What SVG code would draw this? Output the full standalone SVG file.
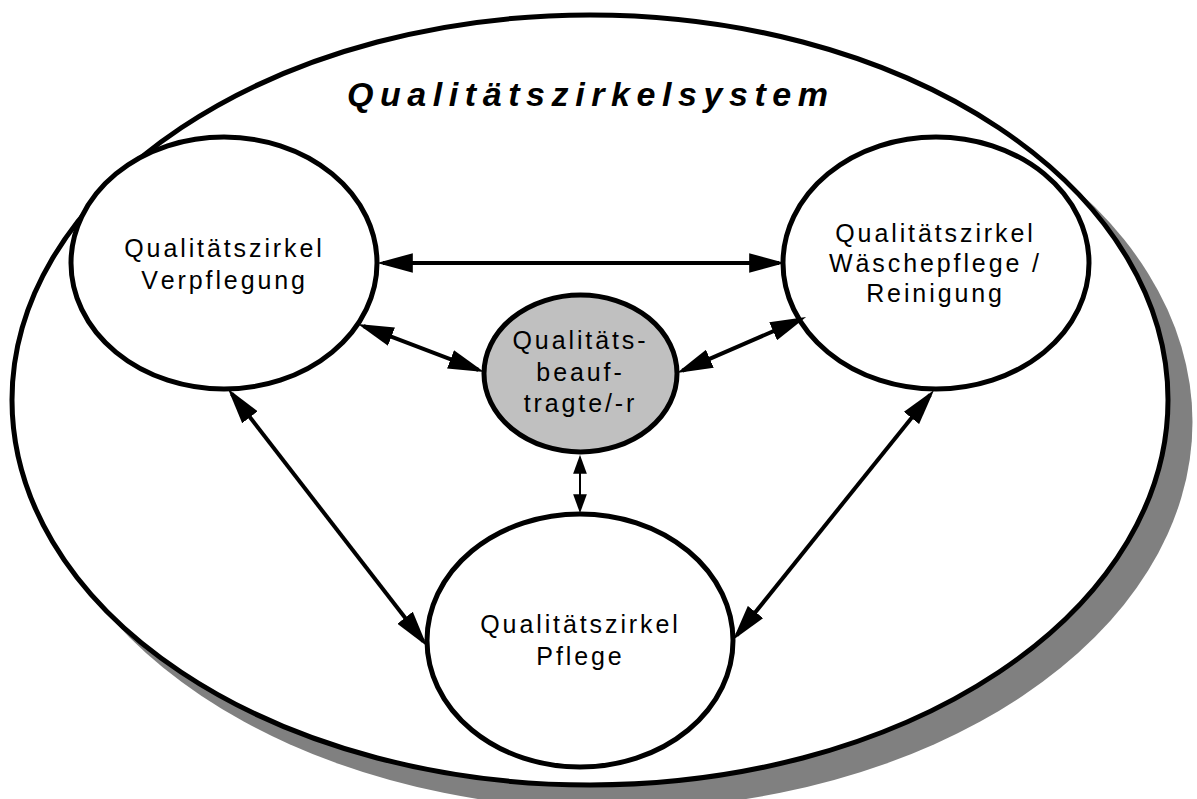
<svg xmlns="http://www.w3.org/2000/svg" width="1197" height="799" viewBox="0 0 1197 799">
  <style>
    .ring { fill: #ffffff; stroke: #000000; stroke-width: 5; }
    .hub { fill: #c0c0c0; stroke: #000000; stroke-width: 5; }
    .label { font-family: "Liberation Sans", Arial, sans-serif; font-size: 25px; letter-spacing: 2.9px; font-kerning: none; fill: #000000; text-anchor: middle; }
    .title { font-family: "Liberation Sans", Arial, sans-serif; font-size: 34px; font-weight: bold; font-style: italic; fill: #000000; text-anchor: middle; }
    .link { stroke: #000000; stroke-width: 4; fill: none; marker-start: url(#head); marker-end: url(#head); }
    .link-thin { stroke: #000000; stroke-width: 2; fill: none; marker-start: url(#head-small); marker-end: url(#head-small); }
  </style>
  <defs>
    <marker id="head" markerUnits="userSpaceOnUse" markerWidth="36" markerHeight="20" viewBox="0 0 35 19" refX="29" refY="9.5" orient="auto-start-reverse">
      <path d="M0,0 L35,9.5 L0,19 Z" fill="#000000"/>
    </marker>
    <marker id="head-small" markerUnits="userSpaceOnUse" markerWidth="19" markerHeight="14" viewBox="0 0 18 13" refX="15" refY="6.5" orient="auto-start-reverse">
      <path d="M0,0 L18,6.5 L0,13 Z" fill="#000000"/>
    </marker>
  </defs>

  <rect width="1197" height="799" fill="#ffffff"/>

  <!-- system boundary with drop shadow -->
  <g id="system">
    <ellipse cx="612" cy="422" rx="580.5" ry="387.5" fill="#808080"/>
    <ellipse cx="590" cy="400" rx="578" ry="385" class="ring"/>
    <text class="title" x="587.5" y="106" textLength="481" lengthAdjust="spacing">Qualitätszirkelsystem</text>
  </g>

  <!-- circle nodes -->
  <g id="verpflegung">
    <ellipse cx="224" cy="263" rx="153" ry="126" class="ring"/>
    <text class="label" x="224.5" y="257">Qualitätszirkel</text>
    <text class="label" x="224.5" y="289">Verpflegung</text>
  </g>
  <g id="waeschepflege">
    <ellipse cx="936" cy="263" rx="153" ry="126" class="ring"/>
    <text class="label" x="935.5" y="242">Qualitätszirkel</text>
    <text class="label" x="935.5" y="272">Wäschepflege /</text>
    <text class="label" x="935.5" y="302">Reinigung</text>
  </g>
  <g id="pflege">
    <ellipse cx="580" cy="640.5" rx="153" ry="126.5" class="ring"/>
    <text class="label" x="580.5" y="633">Qualitätszirkel</text>
    <text class="label" x="580.5" y="665">Pflege</text>
  </g>
  <g id="beauftragte">
    <ellipse cx="580.5" cy="373.5" rx="96.5" ry="78.5" class="hub"/>
    <text class="label" x="580.5" y="349">Qualitäts-</text>
    <text class="label" x="580.5" y="381">beauf-</text>
    <text class="label" x="580.5" y="412">tragte/-r</text>
  </g>

  <!-- two-way connectors -->
  <g id="connectors">
    <line class="link" x1="383" y1="263" x2="779" y2="263"/>
    <line class="link" x1="363.6" y1="326.1" x2="478.4" y2="369.9"/>
    <line class="link" x1="682.5" y1="370.6" x2="800.5" y2="319.4"/>
    <line class="link" x1="231.7" y1="393.7" x2="423.3" y2="641.3"/>
    <line class="link" x1="930.2" y1="394.7" x2="736.8" y2="635.3"/>
    <line class="link-thin" x1="580" y1="458" x2="580" y2="510"/>
  </g>
</svg>
